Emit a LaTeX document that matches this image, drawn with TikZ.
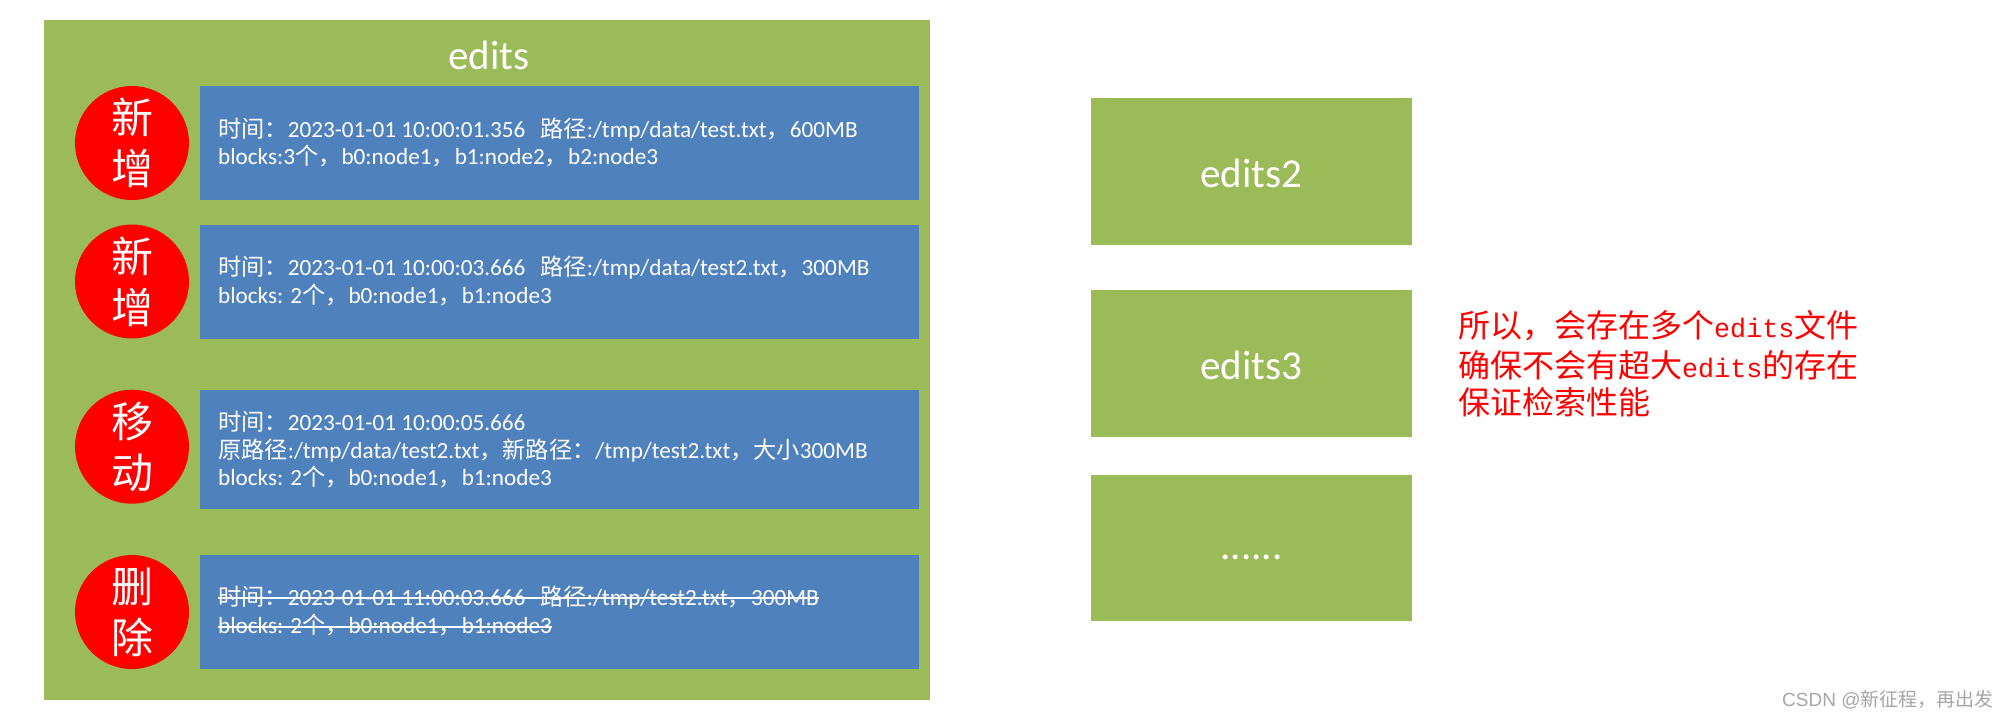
\documentclass[tikz,border=0pt]{standalone}
\usepackage{fontspec}
\setmainfont{Carlito}
\newfontfamily\cjk{Noto Sans CJK SC}
\newfontfamily\monofnt{Liberation Mono}
\newfontfamily\wmfont{Liberation Sans}
\newcommand\C[1]{{\cjk #1}}
\definecolor{egreen}{HTML}{9BBB59}
\definecolor{eblue}{HTML}{4F81BD}
\definecolor{wmgray}{HTML}{A6A6A6}
\begin{document}
\begin{tikzpicture}[x=1pt,y=-1pt,
  panel/.style={fill=egreen, draw=none, inner sep=0pt},
  entry/.style={fill=eblue, draw=none, inner sep=0pt, minimum width=719pt},
  badge/.style={circle, fill=red, draw=none, minimum size=114pt, inner sep=0pt},
  badgetext/.style={text=white, align=center, font=\cjk\fontsize{42}{51}\selectfont, inner sep=0pt},
  txtline/.style={text=white, anchor=base west, inner sep=0pt, font=\fontsize{23.2}{28}\selectfont},
  ttl/.style={text=white, font=\fontsize{41}{46}\selectfont, inner sep=0pt},
  note/.style={text=red, anchor=base west, inner sep=0pt, font=\cjk\fontsize{32}{40}\selectfont},
  strike/.style={white, line width=1.4pt},
]
\useasboundingbox (0,0) rectangle (2008,716);
\fill[white] (0,0) rectangle (2008,716);

% big panel
\node[panel, minimum width=886pt, minimum height=680pt] (edits) at (487,360) {};
\node[ttl] (edtitle) at (489,55) {edits};

% entries
\node[entry, minimum height=114pt] (e1) at (559.5,143) {};
\node[entry, minimum height=114pt] (e2) at (559.5,281.5) {};
\node[entry, minimum height=119pt] (e3) at (559.5,449.5) {};
\node[entry, minimum height=114pt] (e4) at (559.5,612) {};

% badges
\node[badge] (b1) at (132,143) {};
\node[badge] (b2) at (132,281.5) {};
\node[badge] (b3) at (132,446.7) {};
\node[badge] (b4) at (132,612) {};
\node[badgetext] (bt1) at (b1) {新\\增};
\node[badgetext] (bt2) at (b2) {新\\增};
\node[badgetext] (bt3) at (b3) {移\\动};
\node[badgetext] (bt4) at (b4) {删\\除};

% entry texts
\node[txtline] (l11) at (218,137) {\C{时间：}2023-01-01 10:00:01.356\hspace{15pt}\C{路径}:/tmp/data/test.txt\C{，}600MB};
\node[txtline] (l12) at (218,164.5) {blocks:3\C{个，}b0:node1\C{，}b1:node2\C{，}b2:node3};

\node[txtline] (l21) at (218,275.5) {\C{时间：}2023-01-01 10:00:03.666\hspace{15pt}\C{路径}:/tmp/data/test2.txt\C{，}300MB};
\node[txtline] (l22) at (218,303) {blocks: 2\C{个，}b0:node1\C{，}b1:node3};

\node[txtline] (l31) at (218,430) {\C{时间：}2023-01-01 10:00:05.666};
\node[txtline] (l32) at (218,458) {\C{原路径}:/tmp/data/test2.txt\C{，新路径：}/tmp/test2.txt\C{，大小}300MB};
\node[txtline] (l33) at (218,485.5) {blocks: 2\C{个，}b0:node1\C{，}b1:node3};

\node[txtline] (l41) at (218,605) {\C{时间：}2023-01-01 11:00:03.666\hspace{15pt}\C{路径}:/tmp/test2.txt\C{，}300MB};
\node[txtline] (l42) at (218,633) {blocks: 2\C{个，}b0:node1\C{，}b1:node3};
\draw[strike] ([yshift=7pt]l41.base west) -- ([yshift=7pt]l41.base east);
\draw[strike] ([yshift=6pt]l42.base west) -- ([yshift=6pt]l42.base east);

% other edits files
\node[panel, minimum width=321pt, minimum height=147pt] (ed2) at (1251.5,171.5) {};
\node[panel, minimum width=321pt, minimum height=147pt] (ed3) at (1251.5,363.5) {};
\node[panel, minimum width=321pt, minimum height=146pt] (edn) at (1251.5,548) {};
\node[ttl] (ed2t) at (1251.5,173) {edits2};
\node[ttl] (ed3t) at (1251.5,365) {edits3};
\node[ttl, anchor=base] (ednt) at (1251.5,559) {......};

% note
\node[note] (n1) at (1458,337) {所以，会存在多个{\monofnt\fontsize{26.7}{40}\selectfont edits}文件};
\node[note] (n2) at (1458,377) {确保不会有超大{\monofnt\fontsize{26.7}{40}\selectfont edits}的存在};
\node[note] (n3) at (1458,414) {保证检索性能};

% watermark
\node[anchor=base west, inner sep=0pt, text=wmgray, font=\wmfont\fontsize{19}{24}\selectfont] (wm) at (1782,706) {CSDN @\C{新征程，再出发}};
\end{tikzpicture}
\end{document}
